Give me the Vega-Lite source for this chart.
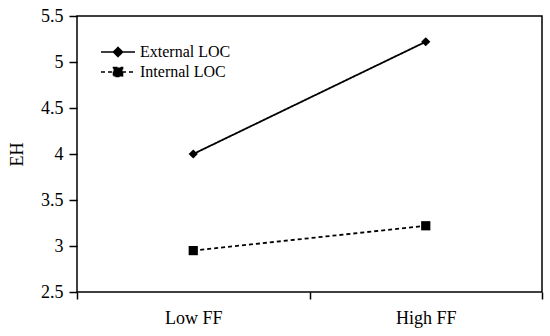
{
  "$schema": "https://vega.github.io/schema/vega-lite/v6.json",
  "width": 465,
  "height": 276,
  "autosize": {"type": "none"},
  "padding": {"left": 77, "top": 16, "right": 8, "bottom": 44},
  "background": "white",
  "config": {
    "view": {"stroke": "black", "strokeWidth": 1.5},
    "font": "Liberation Serif"
  },
  "data": {
    "values": [
      {"series": "External LOC", "FF": "Low FF", "EH": 4.0},
      {"series": "External LOC", "FF": "High FF", "EH": 5.22},
      {"series": "Internal LOC", "FF": "Low FF", "EH": 2.95},
      {"series": "Internal LOC", "FF": "High FF", "EH": 3.22}
    ]
  },
  "encoding": {
    "x": {
      "field": "FF",
      "type": "nominal",
      "sort": ["Low FF", "High FF"],
      "scale": {"type": "band", "paddingInner": 0, "paddingOuter": 0},
      "axis": {
        "title": null,
        "tickBand": "extent",
        "labelAngle": 0,
        "labelFont": "Liberation Serif",
        "labelFontSize": 18,
        "labelColor": "black",
        "tickColor": "black",
        "tickWidth": 1.5,
        "tickSize": 7,
        "domain": false,
        "labelPadding": 10
      }
    },
    "y": {
      "field": "EH",
      "type": "quantitative",
      "scale": {"domain": [2.5, 5.5], "nice": false, "zero": false},
      "axis": {
        "values": [2.5, 3, 3.5, 4, 4.5, 5, 5.5],
        "format": "~g",
        "grid": false,
        "title": "EH",
        "titleFont": "Liberation Serif",
        "titleFontWeight": "normal",
        "titleFontSize": 18,
        "titleColor": "black",
        "titlePadding": 14,
        "labelFont": "Liberation Serif",
        "labelFontSize": 18,
        "labelColor": "black",
        "tickColor": "black",
        "tickWidth": 1.5,
        "tickSize": 8,
        "labelPadding": 6,
        "domain": false
      }
    }
  },
  "layer": [
    {
      "mark": {"type": "line", "color": "black", "strokeWidth": 1.8},
      "encoding": {
        "strokeDash": {
          "field": "series",
          "type": "nominal",
          "scale": {"domain": ["External LOC", "Internal LOC"], "range": [[1, 0], [4, 3]]},
          "legend": {
            "title": null,
            "orient": "none",
            "legendX": 30,
            "legendY": 25,
            "padding": 0,
            "rowPadding": 1,
            "symbolSize": 400,
            "symbolStrokeWidth": 1.6,
            "symbolStrokeColor": "black",
            "symbolFillColor": "black",
            "labelFont": "Liberation Serif",
            "labelFontSize": 16,
            "labelColor": "black",
            "labelOffset": 11,
            "encode": {
              "symbols": {
                "update": {
                  "shape": {"signal": "datum.value == 'External LOC' ? 'M-1.7,0L1.7,0M0,-0.45L0.45,0L0,0.45L-0.45,0Z' : 'M-1.7,0L1.7,0M-0.45,-0.45L0.45,-0.45L0.45,0.45L-0.45,0.45Z'"},
                  "fill": {"value": "black"},
                  "stroke": {"value": "black"},
                  "strokeWidth": {"value": 1.6}
                }
              }
            }
          }
        }
      }
    },
    {
      "transform": [{"filter": "datum.series == 'External LOC'"}],
      "mark": {"type": "point", "shape": "diamond", "filled": true, "color": "black", "size": 85, "opacity": 1}
    },
    {
      "transform": [{"filter": "datum.series == 'Internal LOC'"}],
      "mark": {"type": "point", "shape": "square", "filled": true, "color": "black", "size": 85, "opacity": 1}
    }
  ]
}
